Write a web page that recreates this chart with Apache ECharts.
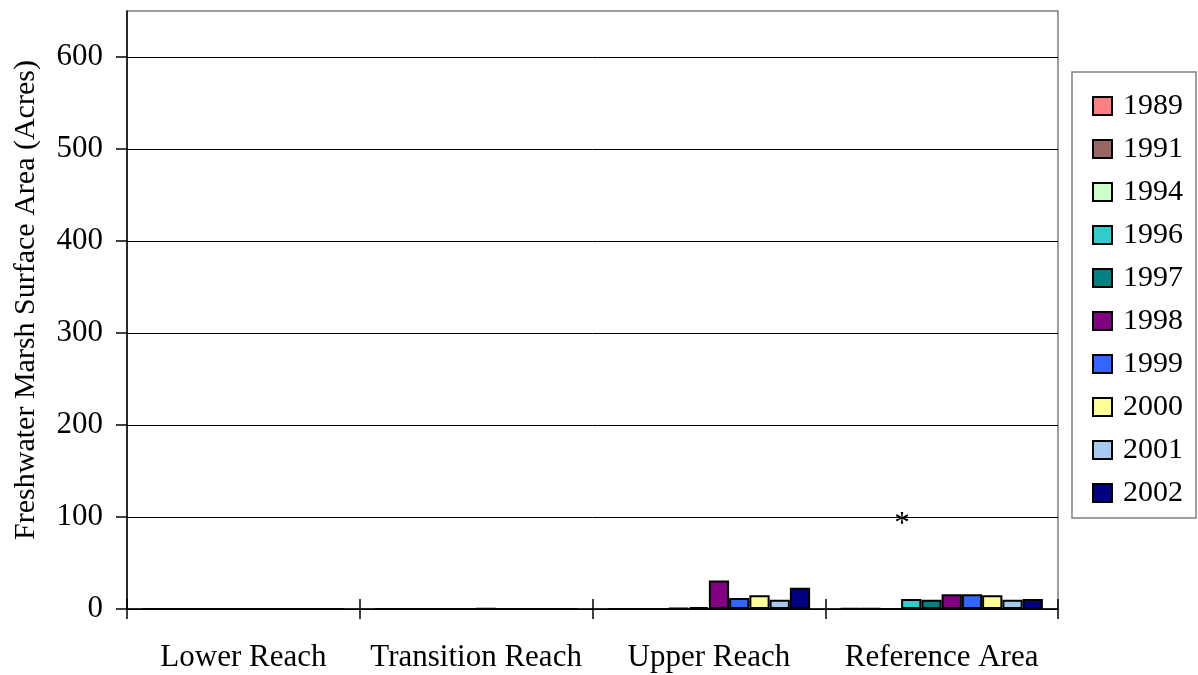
<!DOCTYPE html>
<html>
<head>
<meta charset="utf-8">
<script src="https://cdn.jsdelivr.net/npm/echarts@6/dist/echarts.min.js"></script>
<style>html,body{margin:0;padding:0;background:#fff;}#c{width:1198px;height:675px;}</style>
</head>
<body>
<div id="c"></div>
<script>
var categories = ['Lower Reach', 'Transition Reach', 'Upper Reach', 'Reference Area'];
var years = ['1989', '1991', '1994', '1996', '1997', '1998', '1999', '2000', '2001', '2002'];
var colors = ['#FF8080', '#996666', '#CCFFCC', '#33CCCC', '#008080', '#800080', '#3366FF', '#FFFF99', '#A6CAF0', '#000080'];
var v1989 = [0, 0, 0, 0.7];
var v1991 = [0, 0, 0, 0.7];
var v1994 = [0, 0, 0, 0];
var v1996 = [0, 0, 1, 11];
var v1997 = [0, 0, 2, 10];
var v1998 = [0, 0.6, 31, 16];
var v1999 = [0, 0, 12, 16];
var v2000 = [0, 0, 15, 15];
var v2001 = [0, 0, 10, 10];
var v2002 = [0, 0, 23, 11];
var yTicks = [0, 100, 200, 300, 400, 500, 600];
var note = { category: 'Reference Area', value: 100, text: '*', series: '1994' };

var values = [v1989, v1991, v1994, v1996, v1997, v1998, v1999, v2000, v2001, v2002];
var FONT = "'Liberation Serif', 'Times New Roman', serif";

var series = years.map(function (y, i) {
  var s = {
    name: y,
    type: 'bar',
    data: values[i],
    barGap: '0%',
    barCategoryGap: '13%',
    itemStyle: { color: colors[i], borderColor: '#000', borderWidth: 2 }
  };
  if (y === note.series) {
    s.markPoint = {
      symbol: 'circle',
      symbolSize: 1,
      itemStyle: { color: 'transparent', borderWidth: 0 },
      label: { show: true, position: 'inside', formatter: note.text, color: '#000', fontSize: 31, fontFamily: FONT, offset: [11, 8] },
      data: [{ coord: [note.category, note.value] }]
    };
  }
  return s;
});

var chart = echarts.init(document.getElementById('c'), null, { renderer: 'canvas' });
chart.setOption({
  animation: false,
  backgroundColor: '#fff',
  grid: { left: 127, right: 140, top: 11, bottom: 66, show: true, borderColor: '#808080', borderWidth: 1.5, backgroundColor: 'transparent' },
  legend: {
    orient: 'vertical',
    left: 1072,
    top: 72,
    padding: [19, 13, 10, 20],
    itemGap: 13,
    itemWidth: 19,
    itemHeight: 18,
    icon: 'rect',
    borderColor: '#808080',
    borderWidth: 1.5,
    backgroundColor: '#fff',
    itemStyle: { borderColor: '#000', borderWidth: 2 },
    textStyle: { fontFamily: FONT, fontSize: 30, color: '#000', padding: [0, 0, 0, 6] },
    data: years
  },
  xAxis: [{
    type: 'category',
    data: categories,
    axisLine: { lineStyle: { color: '#000', width: 1.5 } },
    axisTick: { show: true, interval: 0, length: 10, lineStyle: { color: '#000', width: 1.5 } },
    axisLabel: { interval: 0, fontFamily: FONT, fontSize: 31, color: '#000', margin: 33 },
    splitLine: { show: false }
  }, {
    type: 'category',
    data: categories,
    position: 'bottom',
    axisLine: { show: false },
    axisTick: { show: true, interval: 0, inside: true, length: 10, lineStyle: { color: '#000', width: 1.5 } },
    axisLabel: { show: false, interval: 0 },
    splitLine: { show: false }
  }],
  yAxis: {
    type: 'value',
    min: yTicks[0],
    max: 650,
    interval: 100,
    name: 'Freshwater Marsh Surface Area (Acres)',
    nameLocation: 'middle',
    nameGap: 86,
    nameTextStyle: { fontFamily: FONT, fontSize: 30, color: '#000', padding: [0, 0, 0, 20] },
    axisLine: { show: true, lineStyle: { color: '#000', width: 1.5 } },
    axisTick: { show: true, length: 11, lineStyle: { color: '#000', width: 1.5 } },
    axisLabel: { fontFamily: FONT, fontSize: 31, color: '#000', margin: 24, showMaxLabel: false },
    splitLine: { show: true, lineStyle: { color: ['#000', '#000', '#000', '#000', '#000', '#000', '#000', 'transparent'], width: 1 } }
  },
  series: series
});
</script>
</body>
</html>
